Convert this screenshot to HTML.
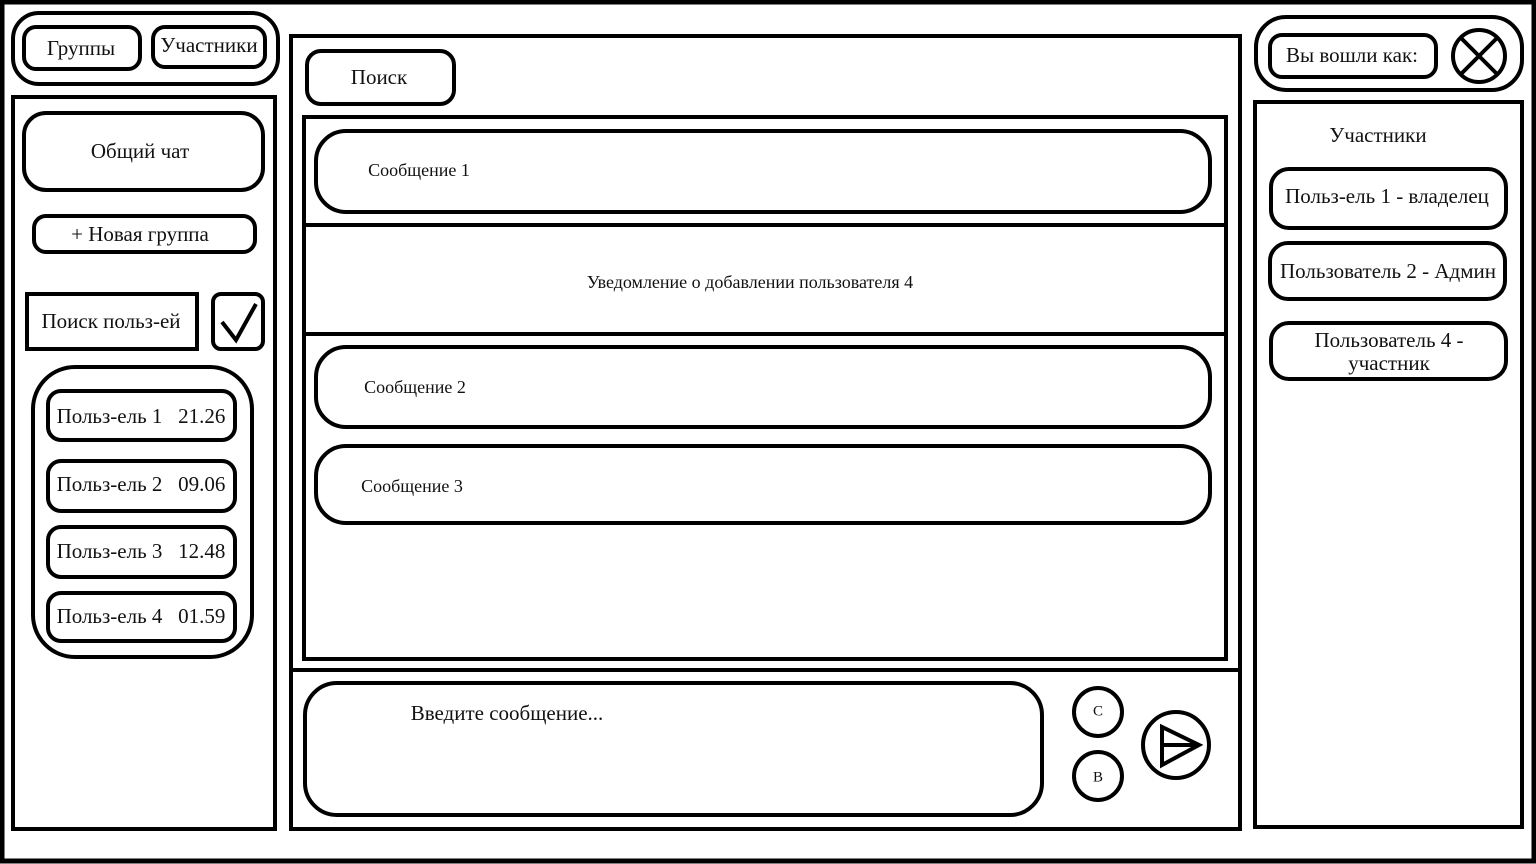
<!DOCTYPE html>
<html><head><meta charset="utf-8"><style>
html,body{margin:0;padding:0;background:#fff}
svg{display:block}
text{font-family:"Liberation Serif","Noto Serif CJK SC",serif;fill:#111;dominant-baseline:middle;text-anchor:middle}
</style></head><body>
<svg width="1536" height="864" viewBox="0 0 1536 864" xmlns="http://www.w3.org/2000/svg">
<g fill="#fff" stroke="#000" stroke-width="4">
<rect x="2" y="2" width="1532" height="859" stroke-width="5"/>
<rect x="13" y="13" width="265" height="71" rx="26"/>
<rect x="24" y="27" width="116" height="42" rx="12"/>
<rect x="153" y="27" width="112" height="40" rx="12"/>
<rect x="13" y="97" width="262" height="732"/>
<rect x="24" y="113" width="239" height="77" rx="22"/>
<rect x="34" y="216" width="221" height="36" rx="12"/>
<rect x="27" y="294" width="170" height="55"/>
<rect x="213" y="294" width="50" height="55" rx="8"/>
<rect x="33" y="367" width="219" height="290" rx="42"/>
<rect x="48" y="391" width="187" height="49" rx="13"/>
<rect x="48" y="461" width="187" height="50" rx="13"/>
<rect x="48" y="527" width="187" height="50" rx="13"/>
<rect x="48" y="593" width="187" height="48" rx="13"/>
<rect x="291" y="36" width="949" height="793"/>
<line x1="291" y1="670" x2="1240" y2="670"/>
<rect x="307" y="51" width="147" height="53" rx="14"/>
<rect x="304" y="117" width="922" height="542"/>
<line x1="304" y1="225" x2="1226" y2="225"/>
<line x1="304" y1="334" x2="1226" y2="334"/>
<rect x="316" y="131" width="894" height="81" rx="30"/>
<rect x="316" y="347" width="894" height="80" rx="30"/>
<rect x="316" y="446" width="894" height="77" rx="30"/>
<rect x="305" y="683" width="737" height="132" rx="32"/>
<circle cx="1098" cy="712" r="24"/>
<circle cx="1098" cy="776" r="24"/>
<circle cx="1176" cy="745" r="33"/>
<rect x="1256" y="17" width="266" height="73" rx="30"/>
<rect x="1270" y="35" width="166" height="42" rx="12"/>
<circle cx="1479" cy="56" r="26"/>
<rect x="1255" y="102" width="267" height="725"/>
<rect x="1271" y="169" width="235" height="59" rx="18"/>
<rect x="1270" y="243" width="235" height="56" rx="18"/>
<rect x="1271" y="323" width="235" height="56" rx="18"/>
</g>
<g fill="none" stroke="#000" stroke-width="4">
<path d="M222 322 L236 340 L256 304"/>
<path d="M1162 727 L1162 765 L1199 745 Z M1162 745 L1199 745"/>
<path d="M1461 38 L1497 74 M1497 38 L1461 74"/>
</g>
<g font-size="21">
<text x="81" y="50">Группы</text>
<text x="209" y="47">Участники</text>
<text x="140" y="153">Общий чат</text>
<text x="140" y="236">+ Новая группа</text>
<text x="111" y="323">Поиск польз-ей</text>
<text x="141" y="418">Польз-ель 1 &#160; 21.26</text>
<text x="141" y="486">Польз-ель 2 &#160; 09.06</text>
<text x="141" y="553">Польз-ель 3 &#160; 12.48</text>
<text x="141" y="618">Польз-ель 4 &#160; 01.59</text>
<text x="379" y="79">Поиск</text>
<text x="507" y="715">Введите сообщение...</text>
<text x="1352" y="57">Вы вошли как:</text>
<text x="1378" y="137">Участники</text>
<text x="1387" y="198">Польз-ель 1 - владелец</text>
<text x="1388" y="273">Пользователь 2 - Админ</text>
<text x="1389" y="342">Пользователь 4 -</text>
<text x="1389" y="365">участник</text>
</g>
<g font-size="18">
<text x="419" y="172">Сообщение 1</text>
<text x="750" y="284">Уведомление о добавлении пользователя 4</text>
<text x="415" y="389">Сообщение 2</text>
<text x="412" y="488">Сообщение 3</text>
</g>
<g font-size="15">
<text x="1098" y="712">С</text>
<text x="1098" y="778">В</text>
</g>
</svg>
</body></html>
